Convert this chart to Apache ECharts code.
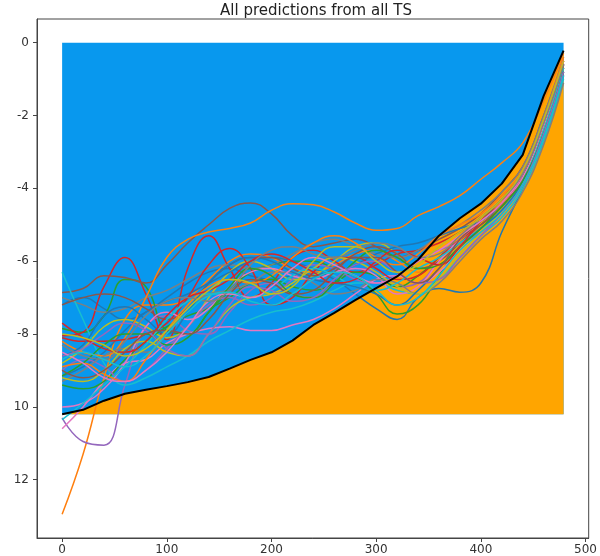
<!DOCTYPE html>
<html>
<head>
<meta charset="UTF-8">
<title>All predictions from all TS</title>
<style>
  * { margin: 0; padding: 0; }
  body { background: #fff; }
  #main { width: 600px; height: 556px; }
</style>
<script src="https://cdn.jsdelivr.net/npm/echarts@6/dist/echarts.min.js"></script>
</head>
<body>
<div id="main"></div>
<script>
// time steps shared by every line
var xs = [0, 20, 40, 60, 80, 100, 120, 140, 160, 180, 200, 220, 240, 260, 280, 300, 320, 340, 360, 380, 400, 420, 440, 460, 479];

// ground truth (black line, edge between blue and orange fills)
var truth = [-10.2, -10.08, -9.83, -9.64, -9.53, -9.43, -9.32, -9.18, -8.95, -8.71, -8.5, -8.18, -7.75, -7.42, -7.07, -6.74, -6.42, -5.96, -5.3, -4.82, -4.42, -3.87, -3.08, -1.46, -0.22];

// predictions, in plotting order (colour cycle repeats three times)
var blue1 = [-7.2, -7.0, -7.3, -7.6, -7.4, -7.0, -6.6, -6.3, -6.2, -6.4, -6.5, -6.4, -6.3, -6.5, -6.9, -7.3, -7.6, -7.0, -6.75, -6.85, -6.6, -5.2, -4.0, -2.6, -0.9];
var orange1 = [-12.95, -11.3, -9.2, -7.6, -7.2, -7.2, -7.0, -6.5, -6.0, -5.8, -5.9, -6.2, -6.3, -6.1, -5.8, -5.7, -6.0, -6.3, -5.9, -5.3, -4.9, -4.4, -3.6, -2.2, -0.5];
var green1 = [-7.85, -7.95, -7.5, -6.5, -6.7, -7.9, -8.0, -7.4, -6.8, -6.3, -6.1, -6.0, -6.0, -6.2, -6.4, -6.9, -7.45, -7.2, -6.4, -5.6, -5.1, -4.6, -3.8, -2.4, -0.7];
var red1 = [-8.05, -7.95, -6.7, -5.9, -6.9, -8.15, -6.2, -5.3, -6.2, -7.0, -6.6, -5.9, -5.7, -6.0, -6.3, -6.1, -5.8, -5.7, -5.5, -5.2, -4.8, -4.3, -3.5, -2.2, -0.6];
var purple1 = [-10.3, -10.95, -11.05, -9.4, -7.8, -7.5, -7.9, -8.0, -7.4, -6.8, -6.6, -6.9, -7.0, -6.6, -6.2, -6.3, -6.7, -6.6, -6.0, -5.5, -5.1, -4.6, -3.9, -2.6, -0.9];
var brown1 = [-6.86, -6.75, -6.4, -6.45, -6.6, -6.1, -5.5, -5.0, -4.55, -4.4, -4.7, -5.3, -5.6, -5.5, -5.4, -5.6, -5.9, -5.7, -5.4, -5.1, -4.7, -4.1, -3.4, -2.0, -0.5];
var pink1 = [-10.6, -10.0, -9.3, -8.8, -8.7, -8.25, -8.0, -7.85, -7.8, -7.9, -7.9, -7.75, -7.6, -7.3, -6.9, -6.5, -6.4, -6.6, -6.3, -5.7, -5.2, -4.7, -3.9, -2.6, -0.8];
var gray1 = [-7.0, -7.2, -7.4, -7.3, -7.0, -6.8, -6.5, -6.2, -6.1, -6.2, -6.1, -5.8, -5.5, -5.4, -5.6, -5.8, -5.9, -5.7, -5.3, -5.0, -4.6, -4.1, -3.4, -2.0, -0.4];
var olive1 = [-8.8, -8.4, -7.8, -7.6, -7.8, -8.1, -7.8, -7.0, -6.3, -6.0, -6.2, -6.5, -6.4, -6.0, -5.6, -5.5, -5.8, -6.2, -6.0, -5.4, -4.9, -4.4, -3.6, -2.2, -0.5];
var cyan1 = [-6.3, -7.6, -8.8, -9.4, -9.2, -8.9, -8.6, -8.2, -7.9, -7.6, -7.4, -7.3, -7.1, -6.8, -6.6, -6.6, -6.8, -6.9, -6.5, -5.9, -5.3, -4.8, -4.0, -2.7, -1.0];
var blue2 = [-9.15, -8.9, -8.5, -7.9, -7.4, -7.1, -6.9, -6.6, -6.3, -6.0, -5.9, -6.0, -6.2, -6.3, -6.1, -5.8, -5.6, -5.5, -5.3, -5.1, -4.9, -4.4, -3.6, -2.3, -0.6];
var orange2 = [-8.2, -8.5, -8.6, -8.1, -7.0, -5.9, -5.4, -5.2, -5.1, -4.95, -4.6, -4.42, -4.45, -4.65, -4.95, -5.15, -5.1, -4.75, -4.5, -4.2, -3.75, -3.3, -2.75, -1.6, -0.3];
var green2 = [-9.4, -9.5, -9.3, -8.7, -8.2, -7.8, -7.5, -7.3, -7.0, -6.6, -6.5, -6.7, -6.8, -6.6, -6.3, -6.4, -6.7, -6.4, -5.9, -5.4, -5.0, -4.5, -3.7, -2.3, -0.6];
var red2 = [-8.1, -8.2, -8.2, -8.15, -8.0, -7.7, -7.0, -6.1, -5.65, -6.2, -7.2, -7.0, -6.3, -5.9, -5.9, -6.2, -6.5, -6.4, -5.9, -5.4, -5.0, -4.5, -3.7, -2.3, -0.7];
var purple2 = [-9.0, -8.7, -8.9, -9.3, -9.0, -8.4, -7.8, -7.2, -7.0, -7.2, -7.0, -6.5, -6.1, -6.2, -6.5, -6.6, -6.4, -6.0, -5.7, -5.5, -5.2, -4.7, -3.9, -2.5, -0.7];
var brown2 = [-7.2, -7.0, -6.9, -7.0, -7.3, -7.6, -7.3, -6.6, -6.1, -5.9, -5.9, -6.2, -6.4, -6.2, -5.8, -5.6, -5.8, -6.2, -6.0, -5.5, -5.0, -4.5, -3.7, -2.3, -0.6];
var pink2 = [-10.0, -9.9, -9.5, -8.8, -7.8, -7.4, -7.6, -7.3, -6.7, -6.3, -6.2, -6.4, -6.5, -6.3, -6.2, -6.4, -6.9, -6.7, -6.0, -5.4, -4.9, -4.4, -3.7, -2.3, -0.6];
var gray2 = [-9.3, -9.0, -8.6, -8.4, -8.5, -8.0, -7.3, -6.9, -6.8, -6.6, -6.3, -6.3, -6.6, -6.9, -6.8, -6.5, -6.6, -6.9, -6.6, -6.0, -5.4, -4.9, -4.1, -2.8, -1.1];
var olive2 = [-9.2, -9.3, -9.0, -8.4, -8.2, -8.5, -8.6, -8.0, -7.3, -7.0, -6.9, -6.6, -6.2, -5.9, -6.0, -6.3, -6.7, -6.9, -6.5, -5.8, -5.2, -4.6, -3.8, -2.4, -0.7];
var cyan2 = [-10.35, -9.9, -9.4, -8.9, -8.3, -7.6, -7.1, -6.9, -6.9, -7.0, -6.8, -6.4, -6.2, -6.4, -6.7, -6.8, -6.6, -6.2, -5.9, -5.5, -5.1, -4.6, -3.8, -2.4, -0.7];
var blue3 = [-8.6, -8.3, -7.5, -7.25, -7.6, -8.0, -7.4, -6.6, -6.1, -5.9, -6.0, -6.3, -6.5, -6.6, -6.7, -6.9, -7.2, -6.8, -6.2, -5.6, -5.1, -4.6, -3.8, -2.5, -0.8];
var orange3 = [-8.9, -8.8, -9.1, -9.3, -8.7, -7.9, -7.2, -6.7, -6.5, -6.6, -6.4, -5.9, -5.5, -5.3, -5.5, -5.9, -6.1, -5.8, -5.3, -5.0, -4.7, -4.2, -3.5, -2.1, -0.4];
var green3 = [-9.15, -8.8, -8.3, -8.0, -8.0, -8.3, -8.1, -7.4, -6.7, -6.2, -6.4, -6.9, -7.0, -6.6, -6.0, -5.7, -5.9, -6.2, -6.1, -5.6, -5.1, -4.5, -3.8, -2.5, -0.8];
var red3 = [-7.7, -8.1, -8.4, -8.5, -8.2, -7.5, -7.0, -6.8, -6.5, -6.0, -5.8, -6.0, -6.3, -6.6, -6.5, -6.0, -5.7, -5.9, -6.1, -5.6, -4.9, -4.4, -3.6, -2.2, -0.5];
var purple3 = [-8.6, -8.4, -8.0, -7.7, -7.9, -8.4, -8.6, -8.0, -7.2, -6.7, -6.8, -7.1, -7.0, -6.5, -6.1, -6.0, -6.3, -6.6, -6.5, -5.9, -5.3, -4.7, -3.9, -2.5, -0.8];
var brown3 = [-9.0, -9.2, -9.0, -8.5, -8.0, -7.9, -8.0, -7.6, -6.9, -6.5, -6.6, -6.9, -6.8, -6.3, -5.9, -5.9, -6.3, -6.6, -6.2, -5.4, -4.9, -4.3, -3.6, -2.2, -0.6];
var pink3 = [-8.5, -8.8, -9.2, -9.3, -9.0, -8.5, -7.8, -7.1, -6.9, -7.0, -6.7, -6.2, -5.9, -6.1, -6.4, -6.6, -6.4, -6.0, -5.7, -5.3, -4.9, -4.4, -3.6, -2.2, -0.5];
var gray3 = [-8.3, -8.6, -8.7, -8.2, -7.5, -7.1, -7.0, -7.1, -6.8, -6.1, -5.7, -5.6, -5.8, -5.9, -5.7, -5.5, -5.6, -5.9, -5.8, -5.3, -4.8, -4.3, -3.6, -2.2, -0.6];
var olive3 = [-8.0, -8.1, -8.3, -8.6, -8.4, -7.9, -7.3, -6.8, -6.5, -6.6, -6.9, -6.7, -6.0, -5.6, -5.6, -6.0, -6.3, -6.1, -5.6, -5.2, -4.8, -4.3, -3.5, -2.1, -0.5];
var cyan3 = [-8.7, -8.5, -8.7, -8.9, -8.6, -8.0, -7.4, -6.95, -6.85, -7.1, -7.2, -6.9, -6.5, -6.3, -6.4, -6.8, -7.2, -7.0, -6.4, -5.7, -5.2, -4.7, -3.9, -2.6, -0.9];

var preds = [
  blue1, orange1, green1, red1, purple1, brown1, pink1, gray1, olive1, cyan1,
  blue2, orange2, green2, red2, purple2, brown2, pink2, gray2, olive2, cyan2,
  blue3, orange3, green3, red3, purple3, brown3, pink3, gray3, olive3, cyan3
];
var tab10 = ['#1f77b4', '#ff7f0e', '#2ca02c', '#d62728', '#9467bd', '#8c564b', '#e377c2', '#7f7f7f', '#bcbd22', '#17becf'];

var xTicks = [0, 100, 200, 300, 400, 500];
var yTicks = [-12, -10, -8, -6, -4, -2, 0];

var floorLevel = truth[0];

function pairs(vals) {
  return xs.map(function (x, i) { return [x, vals[i]]; });
}

var series = [
  // blue band: from 0 down to the starting level
  {
    type: 'line', silent: true, symbol: 'none', lineStyle: { width: 0 },
    areaStyle: { color: '#0898ee', opacity: 1, origin: floorLevel },
    data: xs.map(function (x) { return [x, 0]; })
  },
  // orange: between the truth and the starting level
  {
    type: 'line', silent: true, symbol: 'none', lineStyle: { width: 0 },
    areaStyle: { color: '#ffa500', opacity: 1, origin: floorLevel },
    data: pairs(truth)
  }
];

preds.forEach(function (p, k) {
  series.push({
    type: 'line', symbol: 'none', smooth: 0.45, silent: true,
    lineStyle: { color: tab10[k % 10], width: 1.5 },
    data: pairs(p)
  });
});

series.push({
  type: 'line', symbol: 'none', silent: true,
  lineStyle: { color: '#000', width: 2 },
  data: pairs(truth)
});

var chart = echarts.init(document.getElementById('main'), null, { renderer: 'canvas' });
chart.setOption({
  animation: false,
  backgroundColor: '#fff',
  title: {
    text: 'All predictions from all TS',
    left: 316, top: 4, padding: 0, textAlign: 'center',
    textStyle: { fontFamily: 'DejaVu Sans', fontSize: 15, fontWeight: 'normal', color: '#222' }
  },
  grid: {
    left: 37, right: 3, top: 19, bottom: 18,
    show: true, borderColor: '#444', borderWidth: 1, backgroundColor: 'transparent'
  },
  xAxis: {
    type: 'value', min: -24, max: 503,
    axisLine: { show: true, onZero: false, lineStyle: { color: '#444' } },
    axisTick: { show: true, length: 4, customValues: xTicks, lineStyle: { color: '#444' } },
    axisLabel: {
      customValues: xTicks, margin: 6, fontFamily: 'DejaVu Sans', fontSize: 12, color: '#333'
    },
    splitLine: { show: false }
  },
  yAxis: {
    type: 'value', min: -13.6, max: 0.65,
    axisLine: { show: true, onZero: false, lineStyle: { color: '#444' } },
    axisTick: { show: true, length: 4, customValues: yTicks, lineStyle: { color: '#444' } },
    axisLabel: {
      customValues: yTicks, margin: 8, fontFamily: 'DejaVu Sans', fontSize: 12, color: '#333',
      // the minus sign of the two lowest labels is cut off in the picture
      formatter: function (v) { return v <= -10 ? String(-v) : String(v); }
    },
    splitLine: { show: false }
  },
  series: series
});
</script>
</body>
</html>
